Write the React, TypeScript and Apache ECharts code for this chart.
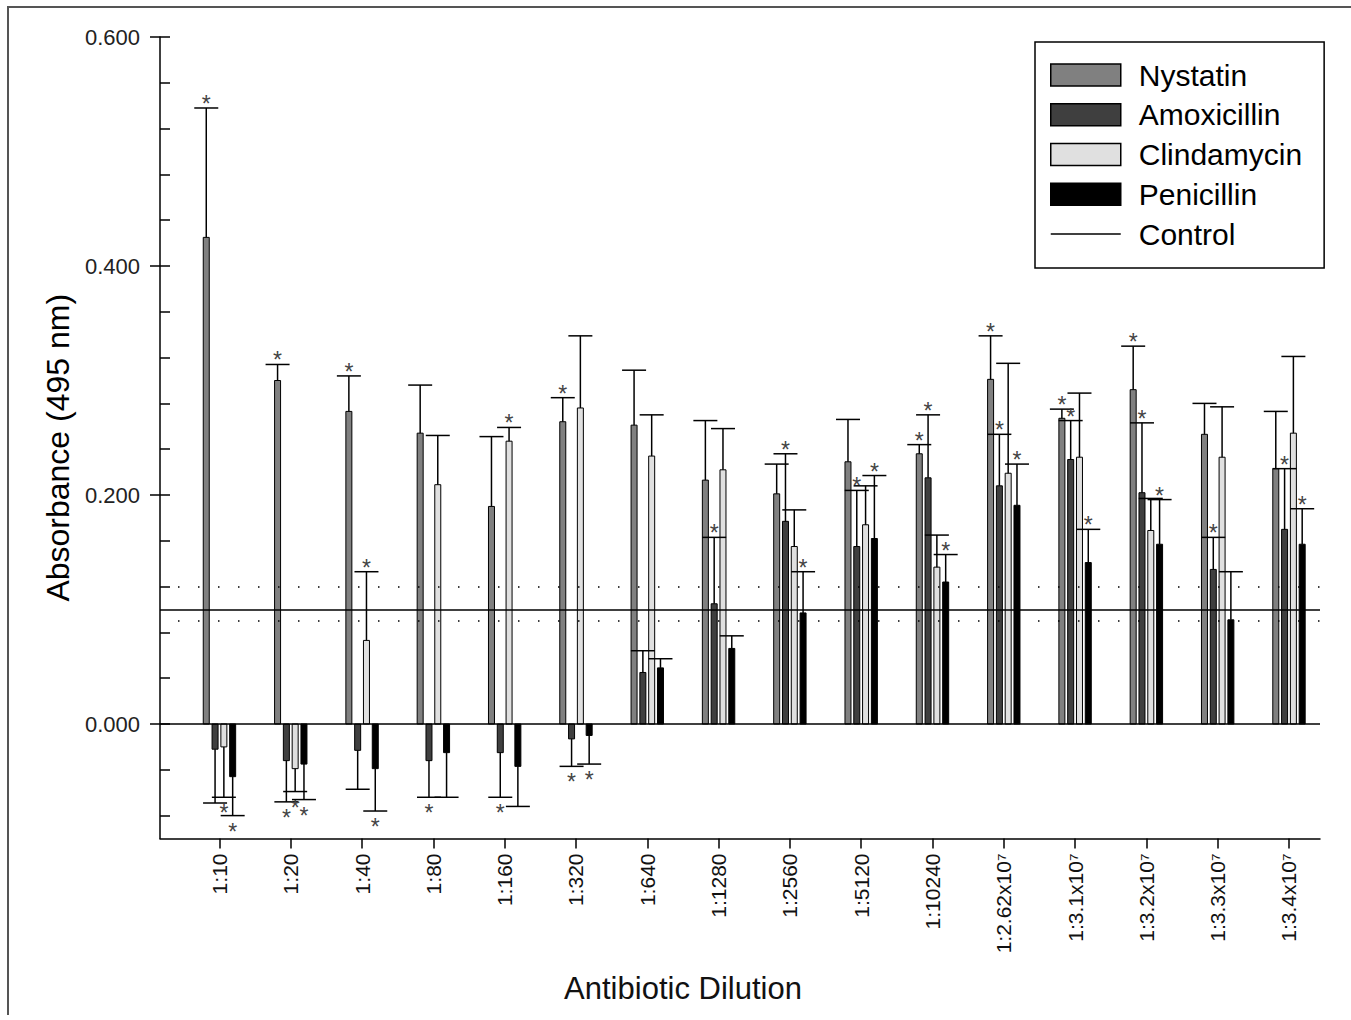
import React, { useEffect, useRef } from "react";
import * as echarts from "echarts";

// ---- Data ----
const categories = [
  "1:10", "1:20", "1:40", "1:80", "1:160", "1:320", "1:640", "1:1280",
  "1:2560", "1:5120", "1:10240", "1:2.62x10\u2077", "1:3.1x10\u2077",
  "1:3.2x10\u2077", "1:3.3x10\u2077", "1:3.4x10\u2077",
];

const nystatin = [0.425, 0.300, 0.273, 0.254, 0.190, 0.264, 0.261, 0.213, 0.201, 0.229, 0.236, 0.301, 0.267, 0.292, 0.253, 0.223];
const nystatinErr = [0.113, 0.014, 0.031, 0.042, 0.061, 0.021, 0.048, 0.052, 0.026, 0.037, 0.008, 0.038, 0.008, 0.038, 0.027, 0.050];
const nystatinSig = [1, 1, 1, 0, 0, 1, 0, 0, 0, 0, 1, 1, 1, 1, 0, 0];

const amoxicillin = [-0.022, -0.032, -0.023, -0.032, -0.025, -0.013, 0.045, 0.105, 0.177, 0.155, 0.215, 0.208, 0.231, 0.202, 0.135, 0.170];
const amoxicillinErr = [0.047, 0.036, 0.034, 0.032, 0.039, 0.024, 0.019, 0.058, 0.059, 0.049, 0.055, 0.045, 0.034, 0.061, 0.028, 0.053];
const amoxicillinSig = [0, 1, 0, 1, 1, 1, 0, 1, 1, 1, 1, 1, 1, 1, 1, 1];

const clindamycin = [-0.020, -0.039, 0.073, 0.209, 0.247, 0.276, 0.234, 0.222, 0.155, 0.174, 0.137, 0.219, 0.233, 0.169, 0.233, 0.254];
const clindamycinErr = [0.044, 0.020, 0.060, 0.043, 0.012, 0.063, 0.036, 0.036, 0.032, 0.034, 0.028, 0.096, 0.056, 0.028, 0.044, 0.067];
const clindamycinSig = [1, 1, 1, 0, 1, 0, 0, 0, 0, 0, 0, 0, 0, 0, 0, 0];

const penicillin = [-0.046, -0.035, -0.039, -0.025, -0.037, -0.010, 0.049, 0.066, 0.097, 0.162, 0.124, 0.191, 0.141, 0.157, 0.091, 0.157];
const penicillinErr = [0.034, 0.031, 0.037, 0.039, 0.035, 0.025, 0.008, 0.011, 0.036, 0.055, 0.024, 0.036, 0.029, 0.039, 0.042, 0.031];
const penicillinSig = [1, 1, 1, 0, 0, 1, 0, 0, 1, 1, 1, 1, 1, 1, 0, 1];

const CONTROL = 0.104;
const CONTROL_UPPER = 0.117;
const CONTROL_LOWER = 0.09;

const yLabelTicks = [0, 0.2, 0.4, 0.6];
const yMinorTicks = [-0.08, -0.04, 0, 0.04, 0.08, 0.12, 0.16, 0.2, 0.24, 0.28, 0.32, 0.36, 0.4, 0.44, 0.48, 0.52, 0.56, 0.6];

// ---- Styles ----
const FONT = '"Liberation Sans", Arial, sans-serif';
const drugs = [
  { name: "Nystatin", values: nystatin, errs: nystatinErr, sig: nystatinSig, color: "#808080" },
  { name: "Amoxicillin", values: amoxicillin, errs: amoxicillinErr, sig: amoxicillinSig, color: "#3f3f3f" },
  { name: "Clindamycin", values: clindamycin, errs: clindamycinErr, sig: clindamycinSig, color: "#e0e0e0" },
  { name: "Penicillin", values: penicillin, errs: penicillinErr, sig: penicillinSig, color: "#000000" },
];
const BAR_W = 6;
const BAR_STEP = 8.8;
const CAP_W = 24;
const X_MIN = -0.834;
const X_MAX = 15.435;

function makeRender(k: number, mode: "bar" | "err", color: string) {
  return (params: any, api: any) => {
    const i = api.value(0);
    const v = api.value(1);
    const e = api.value(2);
    const s = api.value(3);
    const base = api.coord([i, 0]);
    const topP = api.coord([i, v]);
    const endP = api.coord([i, v >= 0 ? v + e : v - e]);
    const cx = base[0] + (k - 1.5) * BAR_STEP;
    if (mode === "bar") {
      const y0 = Math.min(base[1], topP[1]);
      const h = Math.abs(base[1] - topP[1]);
      return {
        type: "rect",
        shape: { x: cx - BAR_W / 2, y: y0, width: BAR_W, height: h },
        style: { fill: color, stroke: "#000", lineWidth: 1 },
      };
    }
    const children: any[] = [
      { type: "line", shape: { x1: cx, y1: topP[1], x2: cx, y2: endP[1] }, style: { stroke: "#000", lineWidth: 1.5 } },
      { type: "line", shape: { x1: cx - CAP_W / 2, y1: endP[1], x2: cx + CAP_W / 2, y2: endP[1] }, style: { stroke: "#000", lineWidth: 1.5 } },
    ];
    if (s) {
      children.push({
        type: "text",
        style: {
          text: "*",
          x: cx,
          y: v >= 0 ? endP[1] - 4 : endP[1] + 16,
          align: "center",
          verticalAlign: "middle",
          fill: "#444",
          fontSize: 23,
          fontFamily: FONT,
        },
      });
    }
    return { type: "group", children };
  };
}

export default function App() {
  const ref = useRef<HTMLDivElement>(null);

  useEffect(() => {
    if (!ref.current) return;
    const chart = echarts.init(ref.current, undefined, { renderer: "svg" });

    const barSeries = drugs.map((d, k) => ({
      name: d.name,
      type: "custom",
      z: 2,
      itemStyle: { color: d.color, borderColor: "#000", borderWidth: 1 },
      renderItem: makeRender(k, "bar", d.color),
      encode: { x: 0, y: 1 },
      data: categories.map((_, i) => [i, d.values[i], d.errs[i], d.sig[i]]),
    }));
    const errSeries = drugs.map((d, k) => ({
      name: d.name + " SD",
      type: "custom",
      z: 3,
      renderItem: makeRender(k, "err", d.color),
      encode: { x: 0, y: 1 },
      data: categories.map((_, i) => [i, d.values[i], d.errs[i], d.sig[i]]),
    }));

    const option: any = {
      animation: false,
      backgroundColor: "#fff",
      grid: { left: 160, right: 31, top: 37, bottom: 181.5, containLabel: false },
      legend: {
        orient: "vertical",
        left: 1035,
        top: 42,
        padding: [18, 22, 19, 15],
        itemWidth: 70,
        itemHeight: 22,
        itemGap: 9.75,
        selectedMode: false,
        borderColor: "#000",
        borderWidth: 1.5,
        backgroundColor: "#fff",
        textStyle: { fontSize: 30, lineHeight: 30, fontFamily: FONT, color: "#000", padding: [0, 0, 0, 13] },
        data: [
          ...drugs.map((d) => ({ name: d.name, icon: "rect", itemStyle: { color: d.color, borderColor: "#000", borderWidth: 1.5 } })),
          { name: "Control", icon: "path://M0 0H70V1.5H0Z", itemStyle: { color: "#000", borderWidth: 0 } },
        ],
      },
      xAxis: {
        type: "value",
        min: X_MIN,
        max: X_MAX,
        axisLine: { show: true, onZero: false, lineStyle: { color: "#000", width: 1.5 } },
        axisTick: { show: true, inside: false, length: 10, customValues: categories.map((_, i) => i), lineStyle: { color: "#000", width: 1.5 } },
        axisLabel: {
          customValues: categories.map((_, i) => i),
          formatter: (v: number) => categories[Math.round(v)] ?? "",
          rotate: 90,
          margin: 15,
          fontSize: 21,
          fontFamily: FONT,
          color: "#111",
        },
        splitLine: { show: false },
      },
      yAxis: [
        {
          type: "value",
          min: -0.1,
          max: 0.6,
          name: "Absorbance (495 nm)",
          nameLocation: "middle",
          nameGap: 86,
          nameTextStyle: { fontSize: 32, fontFamily: FONT, color: "#000", padding: [0, 20, 0, 0] },
          axisLine: { show: true, onZero: false, lineStyle: { color: "#000", width: 1.5 } },
          axisTick: { show: true, inside: true, length: 10, customValues: yMinorTicks, lineStyle: { color: "#000", width: 1.5 } },
          axisLabel: {
            customValues: yLabelTicks,
            formatter: (v: number) => v.toFixed(3),
            margin: 20,
            fontSize: 22,
            fontFamily: FONT,
            color: "#222",
          },
          splitLine: { show: false },
        },
        {
          type: "value",
          min: -0.1,
          max: 0.6,
          position: "left",
          offset: 0,
          axisLine: { show: false, onZero: false },
          axisTick: { show: true, inside: false, length: 10, customValues: yLabelTicks, lineStyle: { color: "#000", width: 1.5 } },
          axisLabel: { show: false },
          splitLine: { show: false },
        },
      ],
      graphic: [
        {
          type: "text",
          style: {
            text: "Antibiotic Dilution",
            x: 683,
            y: 988,
            align: "center",
            verticalAlign: "middle",
            fontSize: 31,
            fontFamily: FONT,
            fill: "#111",
          },
        },
      ],
      series: [
        ...barSeries,
        ...errSeries,
        {
          name: "Control",
          type: "custom",
          z: 5,
          renderItem: () => null,
          encode: { x: 0, y: 1 },
          itemStyle: { color: "#000" },
          data: [],
          markLine: {
            silent: true,
            symbol: ["none", "none"],
            label: { show: false },
            z: 5,
            data: [
              { yAxis: 0, lineStyle: { color: "#000", width: 1.5, type: "solid" } },
              { yAxis: CONTROL, lineStyle: { color: "#000", width: 1.5, type: "solid" } },
              { yAxis: CONTROL_UPPER, lineStyle: { color: "#000", width: 1.5, type: [1.5, 18.5], dashOffset: 2 } },
              { yAxis: CONTROL_LOWER, lineStyle: { color: "#000", width: 1.5, type: [1.5, 18.5], dashOffset: 2 } },
            ],
          },
        },
      ],
    };

    chart.setOption(option);
    return () => chart.dispose();
  }, []);

  return (
    <div style={{ position: "fixed", left: 0, top: 0, width: 1351, height: 1020, background: "#fff" }}>
      <div ref={ref} style={{ position: "absolute", left: 0, top: 0, width: 1351, height: 1020 }} />
      <div
        style={{
          position: "absolute",
          left: 7,
          top: 6,
          right: 0,
          bottom: 5,
          borderTop: "2px solid #555",
          borderLeft: "2px solid #555",
          pointerEvents: "none",
        }}
      />
    </div>
  );
}
